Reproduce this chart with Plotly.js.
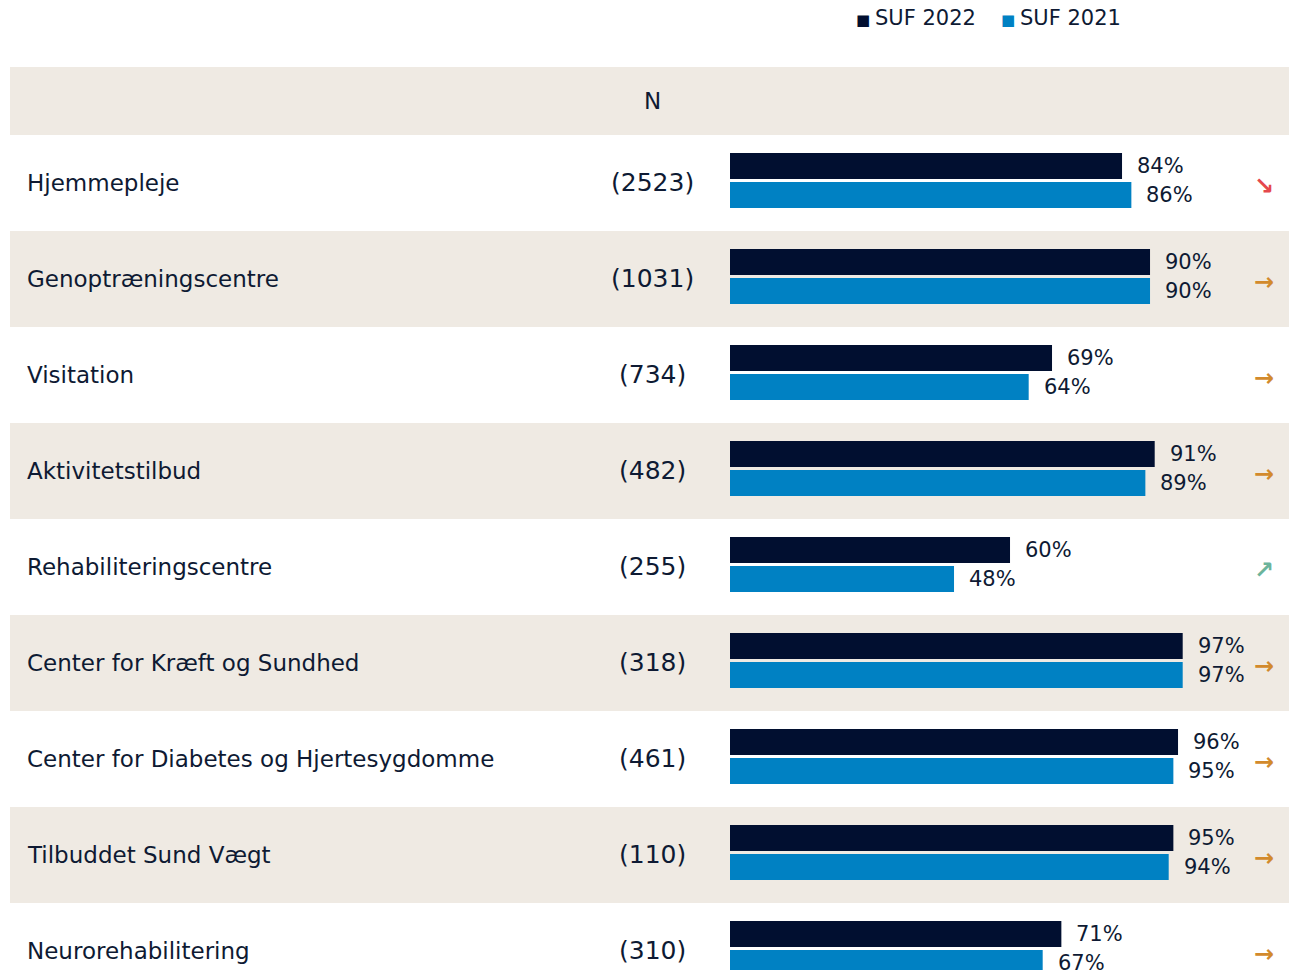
<!DOCTYPE html>
<html>
<head>
<meta charset="utf-8">
<script src="https://cdn.plot.ly/plotly-3.0.1.min.js"></script>
<style>html,body{margin:0;padding:0;background:#fff;}#chart{width:1289px;height:970px;}</style>
</head>
<body>
<div id="chart"></div>
<script>
const categories = ["Hjemmepleje","Genoptræningscentre","Visitation","Aktivitetstilbud","Rehabiliteringscentre","Center for Kræft og Sundhed","Center for Diabetes og Hjertesygdomme","Tilbuddet Sund Vægt","Neurorehabilitering"];
const nCounts = ["(2523)","(1031)","(734)","(482)","(255)","(318)","(461)","(110)","(310)"];
const suf2022 = [84, 90, 69, 91, 60, 97, 96, 95, 71];
const suf2021 = [86, 90, 64, 89, 48, 97, 95, 94, 67];
const trends = ["down","flat","flat","flat","up","flat","flat","flat","flat"];
const seriesNames = ["SUF 2022","SUF 2021"];

const DARK = "#010F30", BLUE = "#0081C3", BEIGE = "#EFEAE3", TXT = "#0E1A33";
const FONT = "DejaVu Sans, Noto Sans, sans-serif";
const W = 1289, H = 970;
const ypos = categories.map((c,i)=>i+1);

const traces = [
  {type:"bar", orientation:"h", name:seriesNames[0], x:suf2022, y:ypos, offset:-0.3125, width:0.27,
   marker:{color:DARK}, hoverinfo:"x", showlegend:false},
  {type:"bar", orientation:"h", name:seriesNames[1], x:suf2021, y:ypos, offset:-0.01, width:0.27,
   marker:{color:BLUE}, hoverinfo:"x", showlegend:false}
];

const shapes = [{type:"rect", xref:"paper", yref:"y", x0:10/W, x1:1, y0:-0.3, y1:0.5, fillcolor:BEIGE, line:{width:0}, layer:"below"}];
ypos.forEach((y,i)=>{ if(i%2===1) shapes.push({type:"rect", xref:"paper", yref:"y", x0:10/W, x1:1, y0:y-0.5, y1:y+0.5, fillcolor:BEIGE, line:{width:0}, layer:"below"}); });

const ann = [];
ann.push({xref:"paper", yref:"y", x:652/W, y:0.15, text:"N", showarrow:false, xanchor:"center", font:{family:FONT, size:23, color:TXT}});
categories.forEach((c,i)=>{
  const y = ypos[i];
  ann.push({xref:"paper", yref:"y", x:25/W, y:y, text:c, showarrow:false, xanchor:"left", font:{family:FONT, size:23, color:TXT}});
  ann.push({xref:"paper", yref:"y", x:652/W, y:y, text:nCounts[i], showarrow:false, xanchor:"center", font:{family:FONT, size:25, color:TXT}});
  ann.push({xref:"x", yref:"y", x:suf2022[i], y:y-0.177, text:suf2022[i]+"%", showarrow:false, xanchor:"left", xshift:13, font:{family:FONT, size:21, color:TXT}});
  ann.push({xref:"x", yref:"y", x:suf2021[i], y:y+0.125, text:suf2021[i]+"%", showarrow:false, xanchor:"left", xshift:13, font:{family:FONT, size:21, color:TXT}});
  let sym="→", col="#D28A2C";
  if(trends[i]==="down"){sym="↘"; col="#E5484D";}
  if(trends[i]==="up"){sym="↗"; col="#6CB49B";}
  ann.push({xref:"paper", yref:"y", x:1264/W, y:y+0.03, text:"<b>"+sym+"</b>", showarrow:false, xanchor:"center", font:{family:"DejaVu Sans", size:24, color:col}});
});
// legend
const legX = [854, 999], legC = [DARK, BLUE];
seriesNames.forEach((s,k)=>{
  ann.push({xref:"paper", yref:"paper", x:legX[k]/W, y:1+49/903, yanchor:"middle", xanchor:"left", showarrow:false,
    text:'<span style="color:'+legC[k]+';font-size:15px">■ </span>'+s,
    font:{family:FONT, size:21, color:TXT}});
});

const layout = {
  width:W, height:H, margin:{l:0, r:0, t:67, b:0},
  paper_bgcolor:"#fff", plot_bgcolor:"rgba(0,0,0,0)",
  barmode:"overlay", showlegend:false,
  xaxis:{domain:[730/W,1], range:[0,(W-730)/4.667], visible:false, fixedrange:true},
  yaxis:{range:[9.198,-0.208], visible:false, fixedrange:true},
  shapes:shapes, annotations:ann
};
Plotly.newPlot("chart", traces, layout, {displayModeBar:false, staticPlot:true});
</script>
</body>
</html>
